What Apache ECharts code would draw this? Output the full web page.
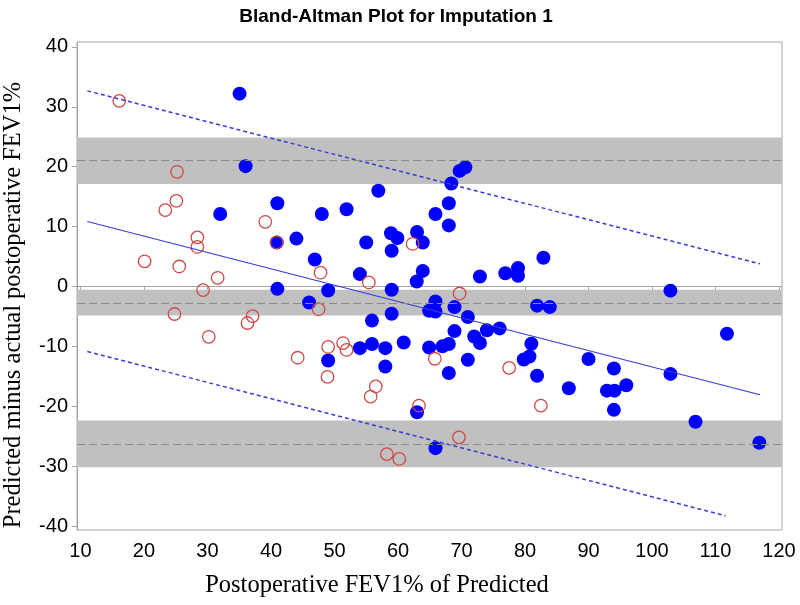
<!DOCTYPE html>
<html>
<head>
<meta charset="utf-8">
<script src="https://cdn.jsdelivr.net/npm/echarts@6/dist/echarts.min.js"></script>
<style>html,body{margin:0;padding:0;background:#fff}#c{width:800px;height:605px}</style>
</head>
<body>
<div id="c"></div>
<script>
// ---- data ----
const titleText = 'Bland-Altman Plot for Imputation 1';
const xTitle = 'Postoperative FEV1% of Predicted';
const yTitle = 'Predicted minus actual postoperative FEV1%';
const xTicks = [10, 20, 30, 40, 50, 60, 70, 80, 90, 100, 110, 120];
const yTicks = [-40, -30, -20, -10, 0, 10, 20, 30, 40];

// mean difference and limits of agreement (dashed gray) with CI bands
const refLines = [21.0, -2.77, -26.3];
const refBandLow = [17.1, -4.85, -30.2];
const refBandHigh = [24.9, -0.55, -22.4];

// regression line and its prediction limits
const regLine = [[11.07, 10.85], [117.0, -18.08]];
const upperLimit = [[11.07, 32.67], [117.0, 3.79]];
const lowerLimit = [[11.07, -10.85], [111.6, -38.3]];

// filled blue points
const bluePoints = [
  [35.05, 32.2], [36.0, 20.1], [32.0, 12.1], [41.0, 13.9], [48.0, 12.1],
  [44.0, 8.0], [40.9, 7.35], [46.9, 4.5], [70.6, 19.9], [69.7, 19.3],
  [68.4, 17.2], [56.9, 16.0], [68.0, 13.9], [65.9, 12.1], [68.0, 10.2],
  [51.9, 12.9], [55.0, 7.35], [58.9, 8.9], [59.9, 8.1], [59.0, 5.96],
  [63.0, 9.1], [63.9, 7.35], [82.9, 4.8], [41.0, -0.4], [46.0, -2.67],
  [54.0, 2.07], [63.9, 2.6], [62.95, 0.83], [72.9, 1.67], [76.9, 2.2],
  [78.9, 3.07], [78.9, 1.8], [49.0, -0.67], [59.0, -0.55], [59.0, -4.56],
  [65.9, -2.5], [64.9, -4.06], [65.9, -4.17], [68.9, -3.44], [71.0, -5.1],
  [81.9, -3.2], [83.9, -3.44], [55.9, -5.7], [68.9, -7.45], [72.0, -8.35],
  [72.9, -9.45], [74.0, -7.3], [76.0, -7.0], [81.0, -9.57], [80.7, -11.7],
  [79.8, -12.2], [81.9, -14.9], [54.0, -10.3], [55.9, -9.6], [58.0, -10.3],
  [60.9, -9.35], [64.9, -10.2], [67.0, -10.0], [68.0, -9.6], [49.0, -12.35],
  [71.0, -12.24], [58.0, -13.36], [68.0, -14.46], [63.0, -21.0], [65.9, -27.0],
  [102.9, -0.7], [111.8, -7.9], [90.0, -12.1], [94.0, -13.7], [102.9, -14.6],
  [86.9, -17.0], [92.9, -17.4], [94.1, -17.4], [95.95, -16.5], [94.0, -20.6],
  [106.85, -22.6], [116.9, -26.1]
];

// open red circles
const redPoints = [
  [16.1, 31.0], [25.2, 19.15], [25.1, 14.3], [23.35, 12.75], [39.1, 10.8],
  [40.9, 7.35], [28.4, 8.2], [28.4, 6.6], [20.1, 4.2], [62.3, 7.1],
  [25.55, 3.34], [31.6, 1.45], [29.3, -0.6], [47.5, -3.8], [47.8, 2.3],
  [24.8, -4.6], [37.1, -4.95], [36.3, -6.1], [30.2, -8.4], [44.2, -11.9],
  [55.4, 0.67], [69.7, -1.17], [49.0, -10.1], [51.35, -9.45], [51.9, -10.6],
  [65.8, -12.07], [77.5, -13.6], [48.9, -15.1], [56.5, -16.7], [55.7, -18.4],
  [63.3, -19.9], [82.5, -19.9], [69.6, -25.2], [58.25, -28.0], [60.2, -28.8]
];

// ---- chart ----
const chart = echarts.init(document.getElementById('c'), null, {renderer: 'canvas'});
const tickFont = 'Liberation Sans, Arial, sans-serif';
const frameColor = '#a6a6a6';

const bandAreas = refBandLow.map((lo, i) => [{yAxis: lo}, {yAxis: refBandHigh[i]}]);
const bandLines = refLines.map(v => ({yAxis: v}));

const option = {
  animation: false,
  backgroundColor: '#fff',
  grid: {left: 77, right: 18, top: 42, bottom: 75, show: true, borderColor: frameColor, borderWidth: 1, backgroundColor: 'transparent'},
  xAxis: {
    type: 'value', min: 9.45, max: 120.47,
    axisLine: {show: true, lineStyle: {color: frameColor}},
    splitLine: {show: false},
    axisTick: {show: true, length: 5, customValues: xTicks, lineStyle: {color: frameColor}},
    axisLabel: {customValues: xTicks, fontSize: 20, color: '#000', fontFamily: tickFont, margin: 11}
  },
  yAxis: {
    type: 'value', min: -40.67, max: 40.83,
    axisLine: {show: true, lineStyle: {color: frameColor}},
    splitLine: {show: false},
    axisTick: {show: true, length: 5, customValues: yTicks, lineStyle: {color: frameColor}},
    axisLabel: {customValues: yTicks, fontSize: 20, color: '#000', fontFamily: tickFont, margin: 9}
  },
  series: [
    {
      type: 'line', data: [], silent: true,
      markArea: {silent: true, itemStyle: {color: '#c0c0c0'}, data: bandAreas},
      markLine: {silent: true, symbol: 'none', label: {show: false},
        lineStyle: {color: '#8a8a8a', type: [8, 4], width: 1}, data: bandLines}
    },
    {type: 'line', data: regLine, symbol: 'none', silent: true,
      lineStyle: {color: '#3b3bd4', width: 1.2}},
    {type: 'line', data: upperLimit, symbol: 'none', silent: true,
      lineStyle: {color: '#3b3bd4', width: 1.5, type: [4, 3]}},
    {type: 'line', data: lowerLimit, symbol: 'none', silent: true,
      lineStyle: {color: '#3b3bd4', width: 1.5, type: [4, 3]}},
    {type: 'scatter', data: bluePoints, symbol: 'circle', symbolSize: 14,
      itemStyle: {color: '#0000ff', opacity: 1}},
    {type: 'scatter', data: redPoints, symbol: 'circle', symbolSize: 12.5,
      itemStyle: {color: 'rgba(0,0,0,0)', borderColor: '#d24848', borderWidth: 1.3, opacity: 1}}
  ],
  graphic: [
    {type: 'text', x: 396, y: 17, style: {text: titleText, font: 'bold 19px "Liberation Sans", Arial, sans-serif', fill: '#000', align: 'center', verticalAlign: 'middle'}},
    {type: 'text', x: 377, y: 586, style: {text: xTitle, font: '24.5px "Liberation Serif", "Times New Roman", serif', fill: '#000', align: 'center', verticalAlign: 'middle'}},
    {type: 'text', x: 14, y: 305, rotation: Math.PI / 2, style: {text: yTitle, font: '24.5px "Liberation Serif", "Times New Roman", serif', fill: '#000', align: 'center', verticalAlign: 'middle'}}
  ]
};
chart.setOption(option);
</script>
</body>
</html>
